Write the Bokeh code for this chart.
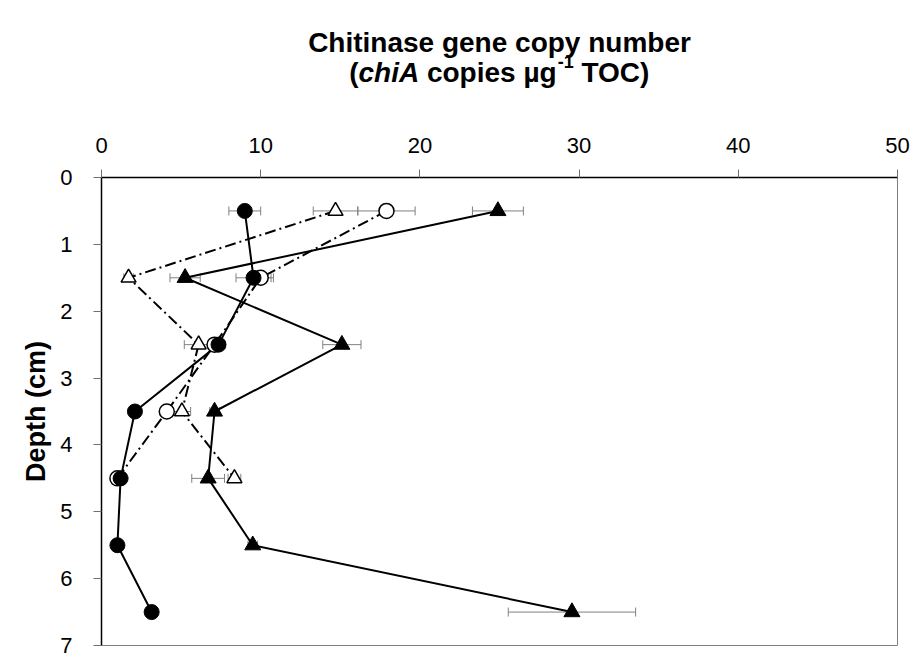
from bokeh.plotting import figure
from bokeh.layouts import column
from bokeh.models import Range1d, FixedTicker, Whisker, ColumnDataSource, TeeHead
from bokeh.core.properties import value
from bokeh.embed import file_html
from bokeh.resources import INLINE

# ---- data ----
depth7 = [0.5, 1.5, 2.5, 3.5, 4.5, 5.5, 6.5]
depth5 = [0.5, 1.5, 2.5, 3.5, 4.5]

filled_circle = [9.0, 9.55, 7.35, 2.1, 1.2, 1.0, 3.15]
filled_circle_err = [1.0, 1.1, 0.4, 0.3, 0.3, 0.2, 0.3]

open_circle = [17.9, 10.0, 7.1, 4.1, 1.0]
open_circle_err = [1.8, 0.8, 0.4, 0.3, 0.2]

open_triangle = [14.7, 1.7, 6.1, 5.05, 8.35]
open_triangle_err = [1.4, 0.3, 0.9, 0.55, 0.4]

filled_triangle = [24.9, 5.25, 15.1, 7.1, 6.7, 9.5, 29.55]
filled_triangle_err = [1.6, 0.95, 1.2, 0.3, 1.03, 0.3, 4.0]

x_ticks = [0, 10, 20, 30, 40, 50]
y_ticks = [0, 1, 2, 3, 4, 5, 6, 7]

title_line1 = "Chitinase gene copy number"
# (text, font style, normal/superscript, space before)
title_line2 = [("(", "bold", "n", ""), ("chiA", "bold italic", "n", ""),
               ("copies \u00b5g", "bold", "n", " "), ("-1", "bold", "s", ""),
               ("TOC)", "bold", "n", " ")]

FONT = "Liberation Sans"
W_TOTAL = 916
TITLE_H = 100
MAIN_H = 657 - TITLE_H
BORDER_L, BORDER_R = 101, 19
FRAME_W = W_TOTAL - BORDER_L - BORDER_R
X0, X1 = 0, 50
PX = FRAME_W / (X1 - X0)  # pixels per data unit along x

# ---- title figure (frame aligned with the main frame) ----
t = figure(width=W_TOTAL, height=TITLE_H, output_backend="svg", toolbar_location=None,
           x_range=Range1d(X0, X1), y_range=Range1d(TITLE_H, 0),
           x_axis_location=None, y_axis_location=None,
           min_border_left=BORDER_L, min_border_right=BORDER_R,
           min_border_top=0, min_border_bottom=0)
t.grid.visible = False
t.outline_line_color = None
t.background_fill_color = "white"
t.border_fill_color = "white"

TS = 28.0
SUP = 18.0
W = {" ": 278, "(": 333, ")": 333, "c": 556, "h": 611, "i": 278, "A": 722, "o": 611,
     "p": 611, "e": 556, "s": 556, "\u00b5": 611, "g": 611, "T": 611, "O": 778,
     "C": 722, "-": 333, "1": 556}

def width(txt, size):
    return sum(W.get(ch, 556) for ch in txt) * size / 1000.0

CENTER = (X0 + X1) / 2.0
t.text(x=[CENTER], y=[42], text=[title_line1], text_font=value(FONT),
       text_font_size=f"{TS}px", text_font_style="bold", text_align="center",
       text_baseline="alphabetic", text_color="black")

def piece_w(s, k, sp):
    size = TS if k == "n" else SUP
    return width(sp, TS) + width(s, size)

total_px = sum(piece_w(s, k, sp) for s, _, k, sp in title_line2)
xpx = -total_px / 2.0
for s, style, k, sp in title_line2:
    size = TS if k == "n" else SUP
    xpx += width(sp, TS)
    ybase = 72 if k == "n" else 61
    t.text(x=[CENTER + xpx / PX], y=[ybase], text=[s], text_font=value(FONT),
           text_font_size=f"{size}px", text_font_style=style, text_align="left",
           text_baseline="alphabetic", text_color="black")
    xpx += width(s, size)

# ---- main figure ----
p = figure(width=W_TOTAL, height=MAIN_H, output_backend="svg", toolbar_location=None,
           x_range=Range1d(X0, X1), y_range=Range1d(7, 0), x_axis_location="above",
           min_border_left=BORDER_L, min_border_right=BORDER_R,
           min_border_top=77, min_border_bottom=12)
p.background_fill_color = "white"
p.border_fill_color = "white"
p.outline_line_color = "#808080"
p.outline_line_width = 1
p.xgrid.visible = False
p.ygrid.visible = False

p.xaxis.ticker = FixedTicker(ticks=x_ticks)
p.yaxis.ticker = FixedTicker(ticks=y_ticks)
for ax in (p.xaxis[0], p.yaxis[0]):
    ax.axis_line_color = "black"
    ax.axis_line_width = 1.5
    ax.major_tick_line_color = "#707070"
    ax.major_tick_line_width = 1
    ax.major_tick_out = 8
    ax.major_tick_in = 0
    ax.minor_tick_out = 0
    ax.minor_tick_in = 0
    ax.major_label_text_font = FONT
    ax.major_label_text_font_size = "22px"
    ax.major_label_text_color = "black"
p.xaxis.major_label_standoff = 17
p.yaxis.major_label_standoff = 21

p.yaxis.axis_label = "Depth (cm)"
p.yaxis.axis_label_text_font = FONT
p.yaxis.axis_label_text_font_size = "27px"
p.yaxis.axis_label_text_font_style = "bold"
p.yaxis.axis_label_text_color = "black"
p.yaxis.axis_label_standoff = 6

# ---- error bars ----
def add_err(xs, ys, errs):
    src = ColumnDataSource(dict(y=ys, lo=[a - e for a, e in zip(xs, errs)],
                                hi=[a + e for a, e in zip(xs, errs)]))
    w = Whisker(base="y", lower="lo", upper="hi", dimension="width", source=src,
                line_color="#808080", line_width=1, level="underlay",
                upper_head=TeeHead(size=9, line_color="#808080", line_width=1),
                lower_head=TeeHead(size=9, line_color="#808080", line_width=1))
    p.add_layout(w)

add_err(open_circle, depth5, open_circle_err)
add_err(open_triangle, depth5, open_triangle_err)
add_err(filled_circle, depth7, filled_circle_err)
add_err(filled_triangle, depth7, filled_triangle_err)

# ---- lines ----
DASHDOT = "11 4 2 4"
p.line(open_circle, depth5, line_color="black", line_width=2, line_dash=DASHDOT)
p.line(open_triangle, depth5, line_color="black", line_width=2, line_dash=DASHDOT)
p.line(filled_circle, depth7, line_color="black", line_width=2)
p.line(filled_triangle, depth7, line_color="black", line_width=2)

# ---- markers ----
p.scatter(open_circle, depth5, marker="circle", size=15, fill_color="white",
          line_color="black", line_width=1.5)
p.scatter(open_triangle, depth5, marker="triangle", size=15, fill_color="white",
          line_color="black", line_width=1.5)
p.scatter(filled_circle, depth7, marker="circle", size=15, fill_color="black",
          line_color="black", line_width=1)
p.scatter(filled_triangle, depth7, marker="triangle", size=16, fill_color="black",
          line_color="black", line_width=1)

layout = column(t, p, spacing=0)
open("out.html", "w").write(file_html(layout, INLINE))
